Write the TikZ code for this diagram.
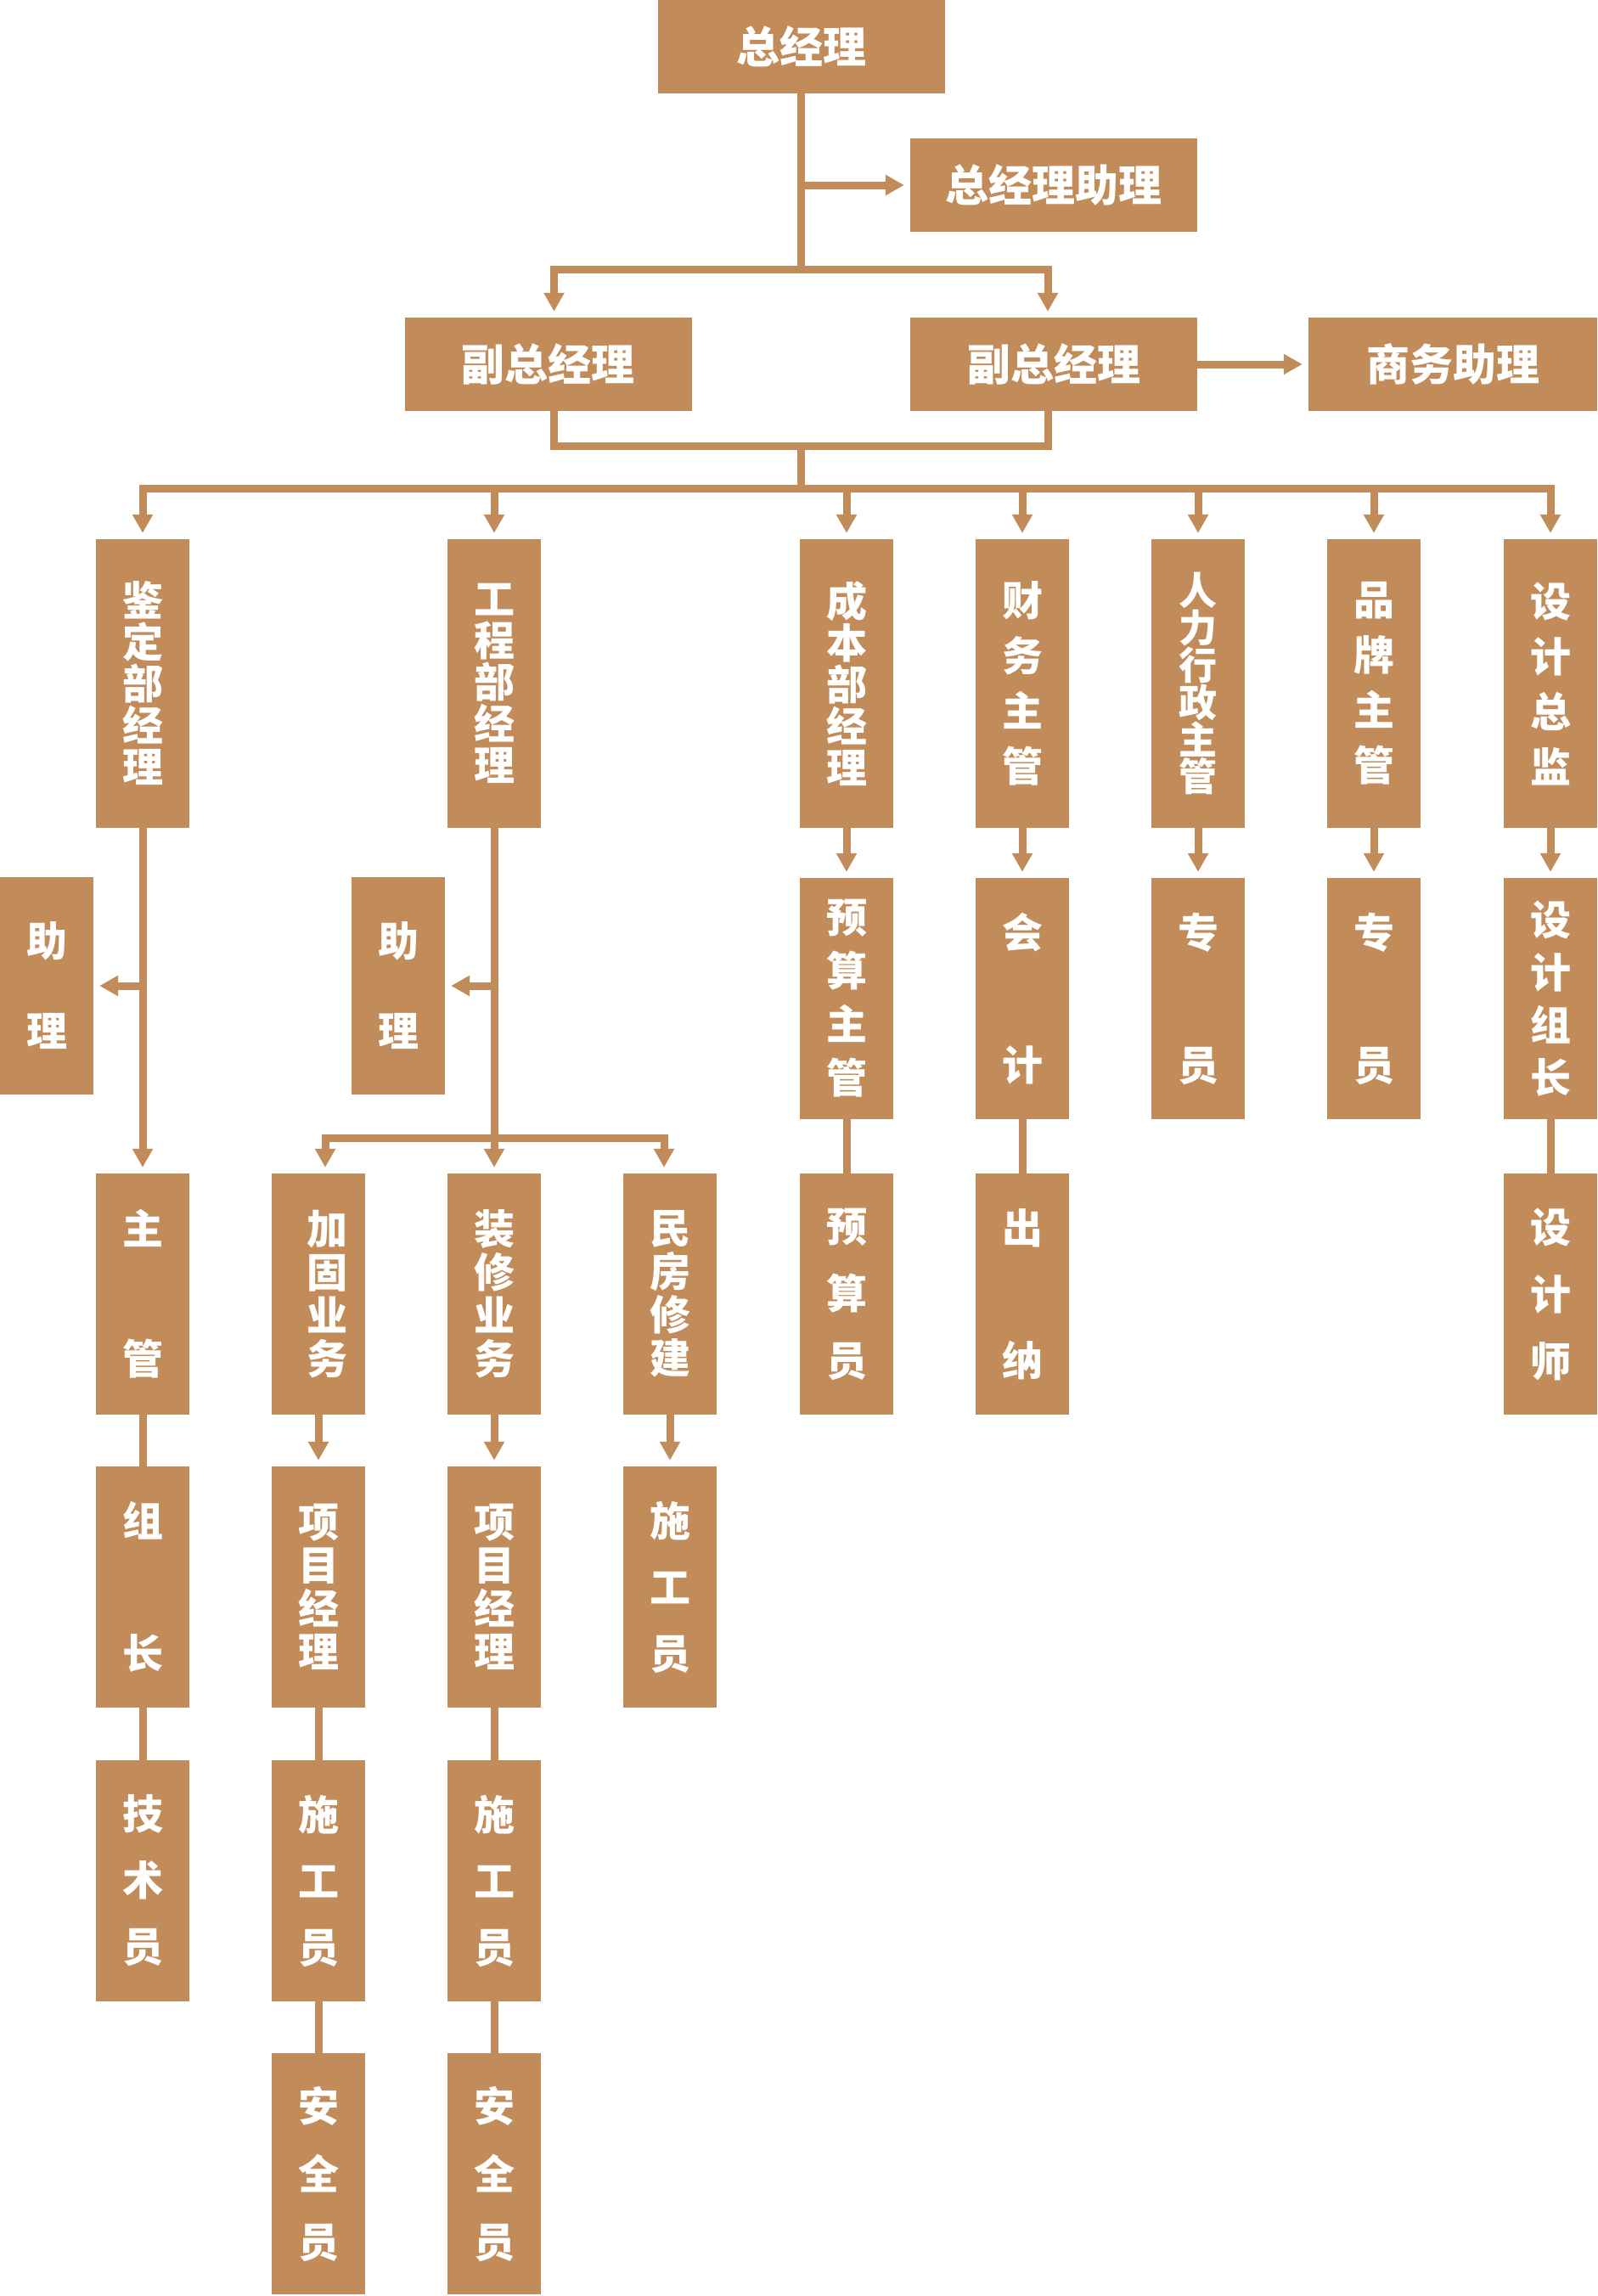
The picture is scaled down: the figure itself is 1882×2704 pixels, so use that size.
\documentclass[tikz,border=0pt]{standalone}
\usepackage{fontspec}
\newfontfamily\cjk{Noto Sans CJK SC}
\usetikzlibrary{arrows.meta,calc}
\definecolor{bc}{RGB}{194,140,90}
\begin{document}
\begin{tikzpicture}[x=1pt,y=-1pt,
  box/.style={fill=bc, text=white, inner sep=0pt, align=center, minimum width=110pt},
  hb/.style={box, minimum width=338pt, minimum height=110pt, font=\cjk\bfseries\fontsize{51}{51}\selectfont},
  vt/.style 2 args={font=\cjk\bfseries\fontsize{#1}{#2}\selectfont},
  r1/.style={box, minimum height=340pt},
  r2/.style={box, minimum height=284pt},
  ln/.style={draw=bc, line width=9pt},
  arr/.style={ln, -{Triangle[length=22pt,width=23pt]}, shorten >=7pt},
  arr2/.style={ln, {Triangle[length=22pt,width=23pt]}-{Triangle[length=22pt,width=23pt]}, shorten >=7pt, shorten <=7pt}
]
\useasboundingbox (0,0) rectangle (1882,2704);

% top level
\node[hb] (zjl) at (943.5,55) {总经理};
\node[hb] (zl) at (1241,218) {总经理助理};
\node[hb] (fz1) at (645.5,429) {副总经理};
\node[hb] (fz2) at (1241,429) {副总经理};
\node[hb, minimum width=340pt] (sw) at (1711,429) {商务助理};

% row 1
\node[r1, vt={48}{49}] (c1) at (168,805) {鉴\\定\\部\\经\\理};
\node[r1, vt={48}{49}] (c2) at (582,805) {工\\程\\部\\经\\理};
\node[r1, vt={48}{49}] (c3) at (997,805) {成\\本\\部\\经\\理};
\node[r1, vt={48}{65}] (c4) at (1204,805) {财\\务\\主\\管};
\node[r1, vt={45}{41.5}] (c5) at (1411,805) {人\\力\\行\\政\\主\\管};
\node[r1, vt={48}{65}] (c6) at (1618,805) {品\\牌\\主\\管};
\node[r1, vt={48}{65}] (c7) at (1826,805) {设\\计\\总\\监};

% row 2
\node[box, minimum height=256pt, vt={48}{106}] (zl1) at (55,1161) {助\\理};
\node[box, minimum height=256pt, vt={48}{106}] (zl2) at (469,1161) {助\\理};
\node[r2, vt={48}{63}] (ys) at (997,1176) {预\\算\\主\\管};
\node[r2, vt={48}{156}] (kj) at (1204,1176) {会\\计};
\node[r2, vt={48}{156}] (zy1) at (1411,1176) {专\\员};
\node[r2, vt={48}{156}] (zy2) at (1618,1176) {专\\员};
\node[r2, vt={48}{62}] (zz) at (1826,1176) {设\\计\\组\\长};

% row 3
\node[r2, vt={48}{153}] (zg) at (168,1524) {主\\管};
\node[r2, vt={48}{51}] (jg) at (375,1524) {\hspace*{20pt}加\\\hspace*{20pt}固\\\hspace*{20pt}业\\\hspace*{20pt}务};
\node[r2, vt={48}{51}] (zx) at (582,1524) {装\\修\\业\\务};
\node[r2, vt={48}{51}] (mf) at (789,1524) {民\\房\\修\\建};
\node[r2, vt={48}{79}] (ysy) at (997,1524) {预\\算\\员};
\node[r2, vt={48}{156}] (cn) at (1204,1524) {出\\纳};
\node[r2, vt={48}{79}] (sjs) at (1826,1524) {设\\计\\师};

% row 4
\node[r2, vt={48}{156}] (zc) at (168,1869) {组\\长};
\node[r2, vt={48}{51}] (xm1) at (375,1869) {项\\目\\经\\理};
\node[r2, vt={48}{51}] (xm2) at (582,1869) {项\\目\\经\\理};
\node[r2, vt={48}{78}] (sg3) at (789,1869) {施\\工\\员};

% row 5
\node[r2, vt={48}{78}] (js) at (168,2215) {技\\术\\员};
\node[r2, vt={48}{78}] (sg1) at (375,2215) {施\\工\\员};
\node[r2, vt={48}{78}] (sg2) at (582,2215) {施\\工\\员};

% row 6
\node[r2, vt={48}{80}] (aq1) at (375,2560) {安\\全\\员};
\node[r2, vt={48}{80}] (aq2) at (582,2560) {安\\全\\员};

% junction coordinates
\coordinate (j1) at (943.5,317.5);
\coordinate (j2) at (943.5,525);
\coordinate (j3) at (943.5,575.5);
\coordinate (j4) at (582,1340);

% top connectors
\draw[ln] (zjl.south) -- (j1);
\draw[arr] (zjl.south |- zl.west) -- (zl.west);
\draw[arr2] ($(fz1.north)+(7,0)$) |- (j1) -| ($(fz2.north)+(-7,0)$);
\draw[arr] (fz2.east) -- (sw.west);
\draw[ln] ($(fz1.south)+(7,0)$) |- (j2) -| ($(fz2.south)+(-7,0)$);
\draw[ln] (j2) -- (j3);
\draw[arr2] (c1.north) |- (j3) -| (c7.north);
\foreach \n in {c2,c3,c4,c5,c6}{
  \draw[arr] (j3 -| \n.north) -- (\n.north);
}

% 鉴定 column
\draw[arr] (c1.south) -- (zg.north);
\draw[arr] (c1.south |- zl1.east) -- (zl1.east);
\draw[ln] (zg.south) -- (zc.north);
\draw[ln] (zc.south) -- (js.north);

% 工程 column
\draw[arr] (c2.south) -- (zx.north);
\draw[arr] (c2.south |- zl2.east) -- (zl2.east);
\draw[arr2] ($(jg.north)+(8,0)$) |- (j4) -| ($(mf.north)+(-7,0)$);
\draw[arr] (jg.south) -- (xm1.north);
\draw[ln] (xm1.south) -- (sg1.north);
\draw[ln] (sg1.south) -- (aq1.north);
\draw[arr] (zx.south) -- (xm2.north);
\draw[ln] (xm2.south) -- (sg2.north);
\draw[ln] (sg2.south) -- (aq2.north);
\draw[arr] (mf.south) -- (sg3.north);

% other columns
\draw[arr] (c3.south) -- (ys.north);
\draw[ln] (ys.south) -- (ysy.north);
\draw[arr] (c4.south) -- (kj.north);
\draw[ln] (kj.south) -- (cn.north);
\draw[arr] (c5.south) -- (zy1.north);
\draw[arr] (c6.south) -- (zy2.north);
\draw[arr] (c7.south) -- (zz.north);
\draw[ln] (zz.south) -- (sjs.north);
\end{tikzpicture}
\end{document}
